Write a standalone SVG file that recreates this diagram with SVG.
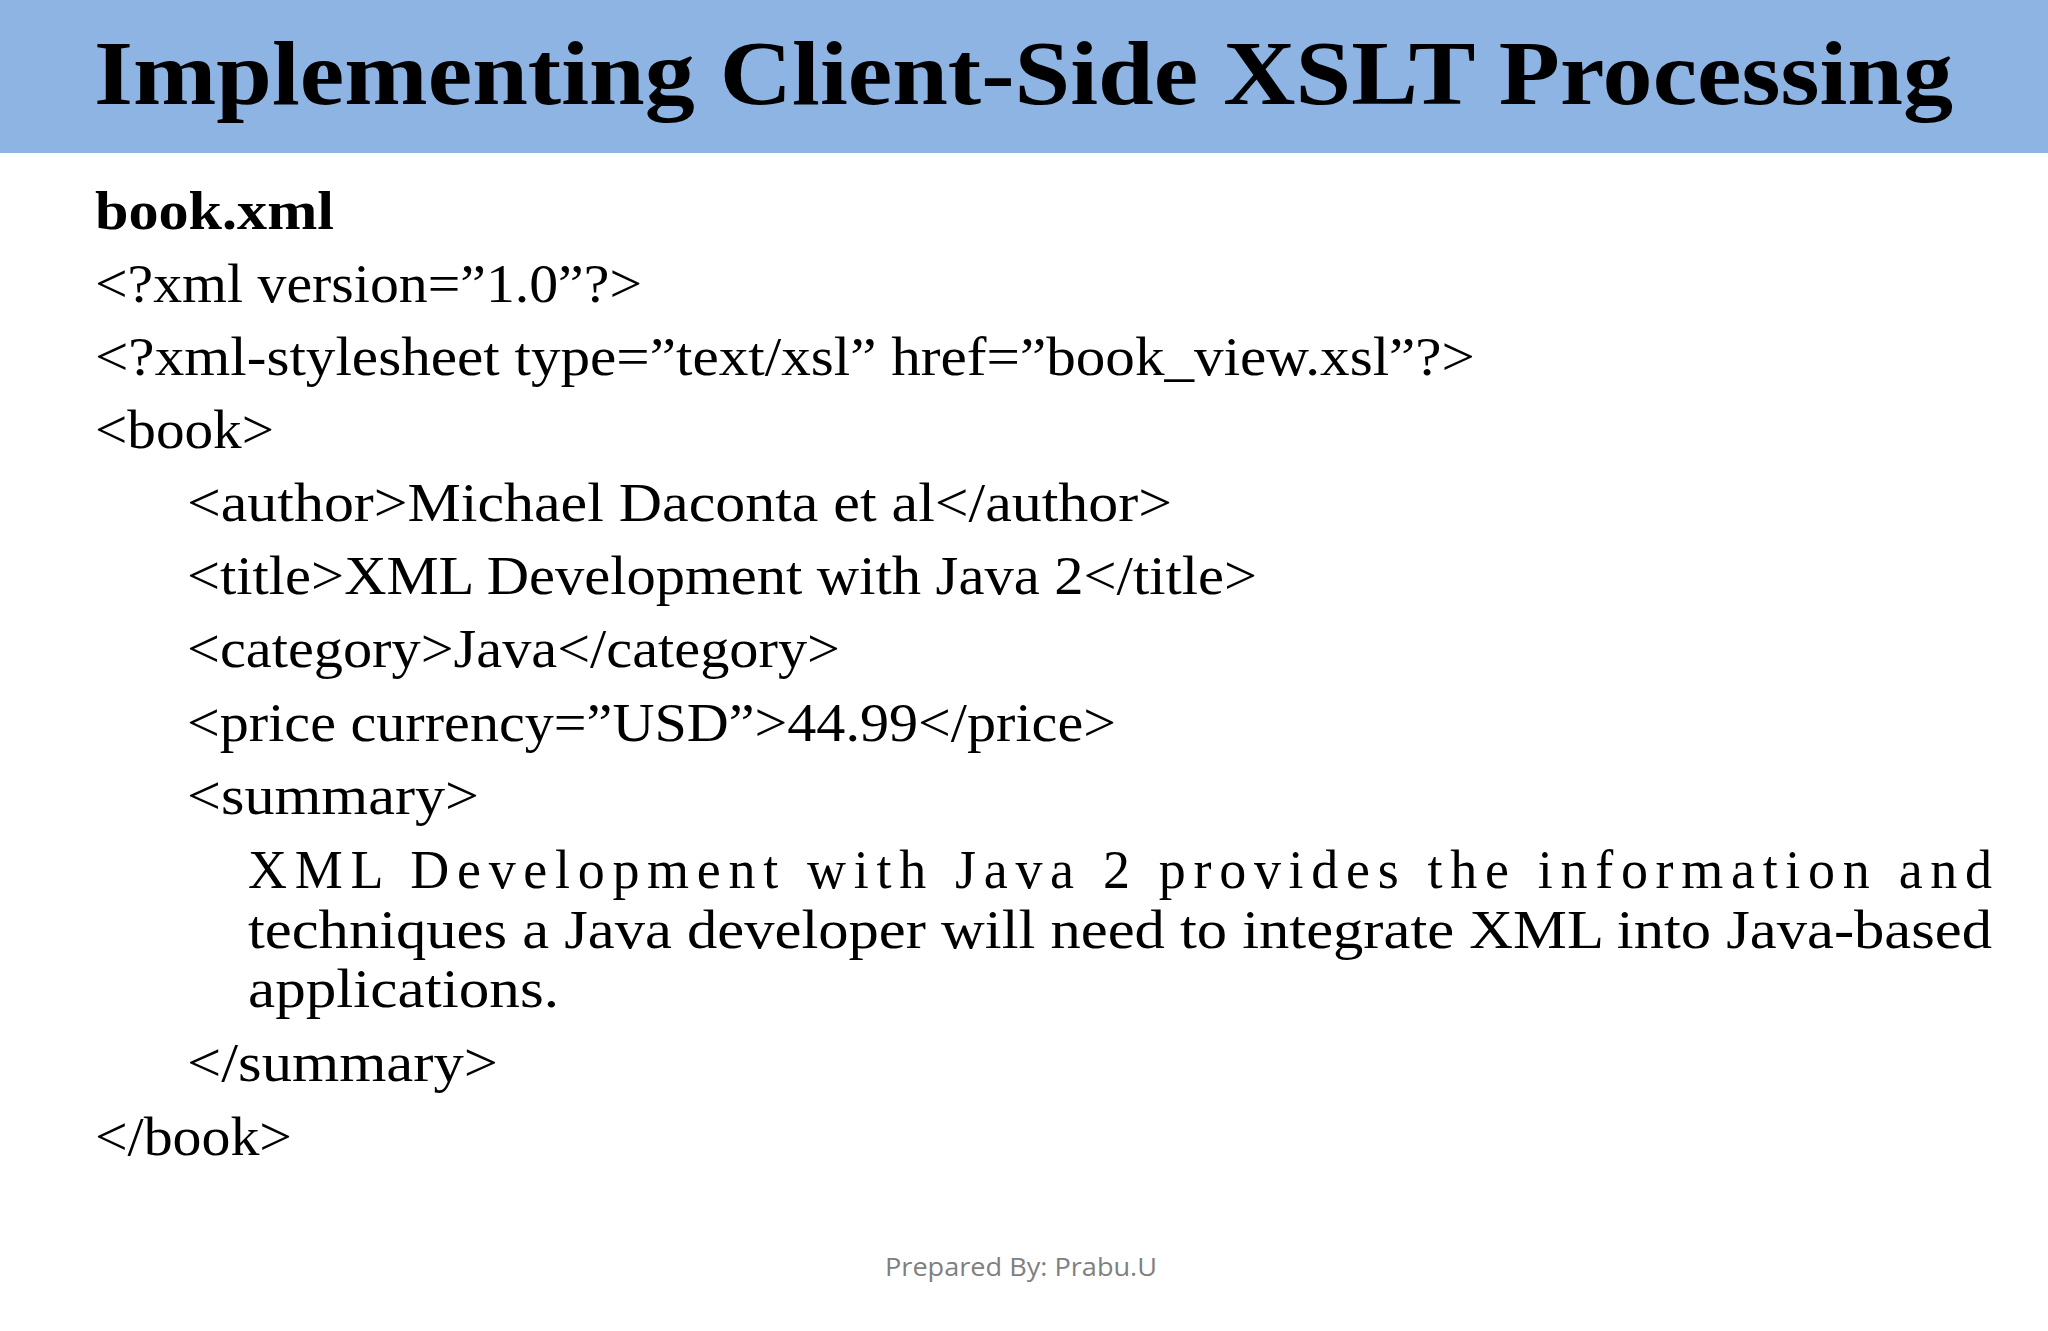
<svg xmlns="http://www.w3.org/2000/svg" width="2048" height="1331" viewBox="0 0 2048 1331">
<style>
.t{font-family:"Liberation Serif","DejaVu Serif",serif;font-size:54px;fill:#000}
.h{font-family:"Liberation Serif","DejaVu Serif",serif;font-size:92px;font-weight:bold;fill:#000}
.f{font-family:"Open Sans","Liberation Sans",sans-serif;font-size:26px;fill:#7f7f7f}
</style>
<rect x="0" y="0" width="2048" height="1331" fill="#fff"/>
<g id="title">
<rect x="0" y="0" width="2048" height="153" fill="#8eb4e3"/>
<text class="h" x="94" y="104" textLength="1859" lengthAdjust="spacingAndGlyphs">Implementing Client-Side XSLT Processing</text>
</g>
<g id="code">
<text class="t" x="95" y="229" font-weight="bold" textLength="239" lengthAdjust="spacingAndGlyphs">book.xml</text>
<text class="t" x="95" y="302" textLength="547" lengthAdjust="spacingAndGlyphs">&lt;?xml version=”1.0”?&gt;</text>
<text class="t" x="95" y="375" textLength="1380" lengthAdjust="spacingAndGlyphs">&lt;?xml-stylesheet type=”text/xsl” href=”book_view.xsl”?&gt;</text>
<text class="t" x="95" y="448" textLength="179" lengthAdjust="spacingAndGlyphs">&lt;book&gt;</text>
<text class="t" x="187" y="521" textLength="985" lengthAdjust="spacingAndGlyphs">&lt;author&gt;Michael Daconta et al&lt;/author&gt;</text>
<text class="t" x="187" y="594" textLength="1070" lengthAdjust="spacingAndGlyphs">&lt;title&gt;XML Development with Java 2&lt;/title&gt;</text>
<text class="t" x="187" y="667" textLength="653" lengthAdjust="spacingAndGlyphs">&lt;category&gt;Java&lt;/category&gt;</text>
<text class="t" x="187" y="741" textLength="929" lengthAdjust="spacingAndGlyphs">&lt;price currency=”USD”&gt;44.99&lt;/price&gt;</text>
<text class="t" x="187" y="814" textLength="292" lengthAdjust="spacingAndGlyphs">&lt;summary&gt;</text>
<text class="t" x="248" y="888" textLength="1744" lengthAdjust="spacing">XML Development with Java 2 provides the information and</text>
<text class="t" x="248" y="948" textLength="1744" lengthAdjust="spacingAndGlyphs">techniques a Java developer will need to integrate XML into Java-based</text>
<text class="t" x="248" y="1007" textLength="311" lengthAdjust="spacingAndGlyphs">applications.</text>
<text class="t" x="187" y="1081" textLength="311" lengthAdjust="spacingAndGlyphs">&lt;/summary&gt;</text>
<text class="t" x="95" y="1155" textLength="197" lengthAdjust="spacingAndGlyphs">&lt;/book&gt;</text>
</g>
<g id="footer">
<text class="f" x="885" y="1276" textLength="272" lengthAdjust="spacingAndGlyphs">Prepared By: Prabu.U</text>
</g>
</svg>
